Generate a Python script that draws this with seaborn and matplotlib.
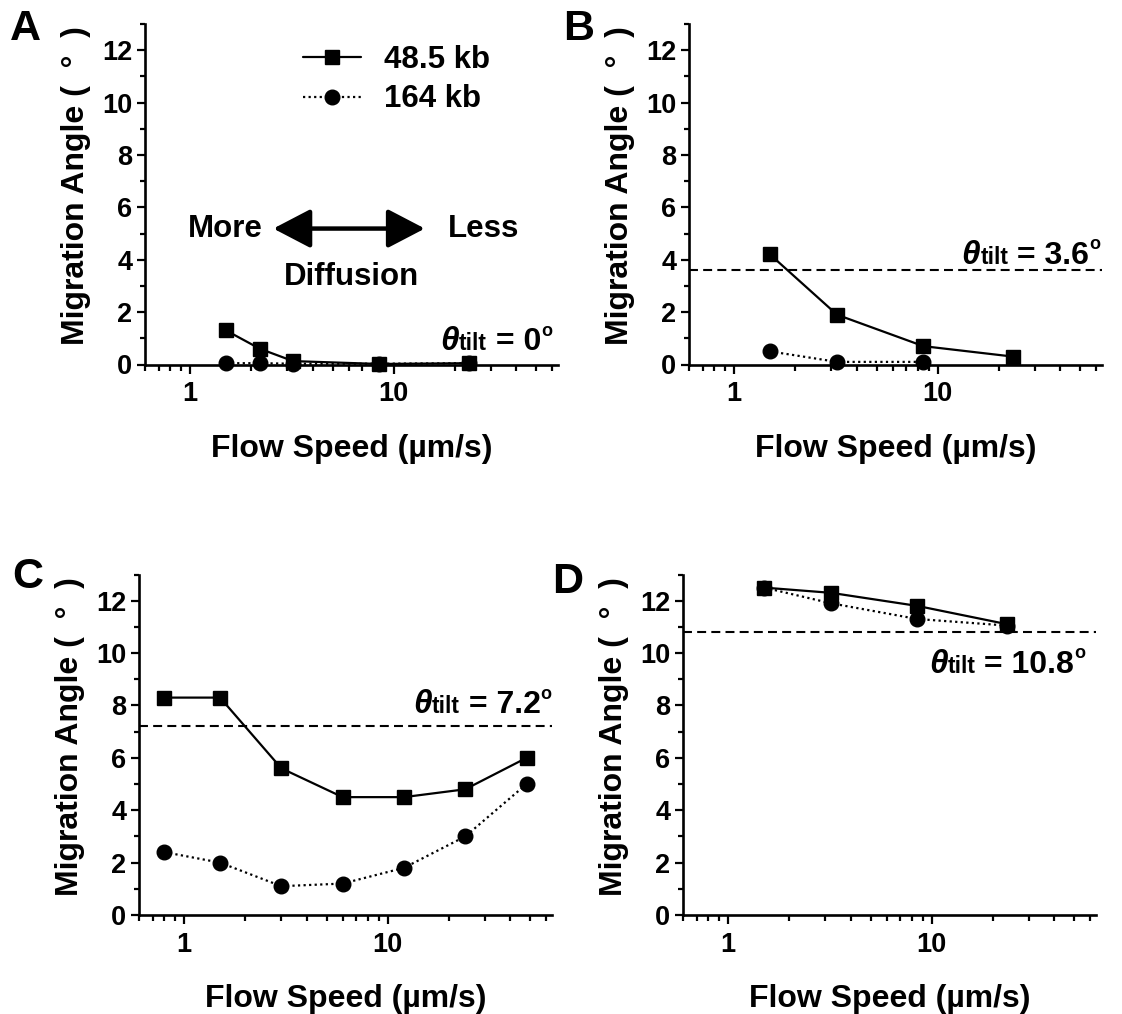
import matplotlib
matplotlib.use("Agg")
import matplotlib.pyplot as plt
import matplotlib.transforms as mtransforms
from matplotlib.ticker import MultipleLocator, FixedLocator, FuncFormatter, NullFormatter, LogLocator
import numpy as np
import pandas as pd
import seaborn as sns

# ---------------- data ----------------
series_names = ["48.5 kb", "164 kb"]

speed_A_485 = [1.5, 2.2, 3.2, 8.5, 23.5]
angle_A_485 = [1.3, 0.6, 0.13, 0.02, 0.05]
speed_A_164 = [1.5, 2.2, 3.2, 8.5, 23.5]
angle_A_164 = [0.05, 0.05, 0.03, 0.03, 0.05]

speed_B_485 = [1.5, 3.2, 8.5, 23.5]
angle_B_485 = [4.2, 1.9, 0.7, 0.3]
speed_B_164 = [1.5, 3.2, 8.5]
angle_B_164 = [0.5, 0.1, 0.1]

speed_C_485 = [0.8, 1.5, 3.0, 6.0, 12, 24, 48]
angle_C_485 = [8.3, 8.3, 5.6, 4.5, 4.5, 4.8, 6.0]
speed_C_164 = [0.8, 1.5, 3.0, 6.0, 12, 24, 48]
angle_C_164 = [2.4, 2.0, 1.1, 1.2, 1.8, 3.0, 5.0]

speed_D_485 = [1.5, 3.2, 8.5, 23.5]
angle_D_485 = [12.5, 12.3, 11.8, 11.1]
speed_D_164 = [1.5, 3.2, 8.5, 23.5]
angle_D_164 = [12.5, 11.9, 11.3, 11.05]

tilt_angles = [0, 3.6, 7.2, 10.8]
panel_letters = ["A", "B", "C", "D"]
x_tick_values = [1, 10]
y_tick_values = [0, 2, 4, 6, 8, 10, 12]

# ---------------- style ----------------
sns.set_theme(style="ticks")
plt.rcParams["font.family"] = ["Liberation Sans", "DejaVu Sans"]
plt.rcParams["font.weight"] = "bold"
plt.rcParams["axes.labelweight"] = "bold"
plt.rcParams["axes.edgecolor"] = "black"
plt.rcParams["xtick.color"] = "black"
plt.rcParams["ytick.color"] = "black"
plt.rcParams["text.color"] = "black"
plt.rcParams["axes.labelcolor"] = "black"

W, H = 1122, 1014
fig = plt.figure(figsize=(W / 100, H / 100), dpi=100)

def px_axes(left, right, top, bottom):
    return fig.add_axes([left / W, 1 - bottom / H, (right - left) / W, (bottom - top) / H])

axA = px_axes(145, 558, 24, 364.5)
axB = px_axes(689, 1102, 24, 364.5)
axC = px_axes(139, 552, 574.5, 915)
axD = px_axes(683, 1096, 574.5, 915)
axes = [axA, axB, axC, axD]

panel_data = [
    (speed_A_485, angle_A_485, speed_A_164, angle_A_164),
    (speed_B_485, angle_B_485, speed_B_164, angle_B_164),
    (speed_C_485, angle_C_485, speed_C_164, angle_C_164),
    (speed_D_485, angle_D_485, speed_D_164, angle_D_164),
]

for ax, (s1, a1, s2, a2) in zip(axes, panel_data):
    ax.set_xscale("log")
    df = pd.DataFrame({
        "speed": list(s1) + list(s2),
        "angle": list(a1) + list(a2),
        "dna": [series_names[0]] * len(s1) + [series_names[1]] * len(s2),
    })
    sns.lineplot(data=df, x="speed", y="angle", style="dna", style_order=series_names,
                 markers={series_names[0]: "s", series_names[1]: "o"},
                 dashes={series_names[0]: "", series_names[1]: (1, 1.5)},
                 color="black", linewidth=1.6, markersize=10.5,
                 markeredgecolor="black", markeredgewidth=1,
                 estimator=None, sort=False, legend=False, ax=ax, clip_on=False)
    ax.set_xlim(0.6, 64)
    ax.set_ylim(0, 13)
    ax.xaxis.set_major_locator(FixedLocator(x_tick_values))
    ax.xaxis.set_major_formatter(FuncFormatter(lambda v, p: f"{v:g}"))
    ax.xaxis.set_minor_locator(LogLocator(base=10, subs=np.arange(2, 10)))
    ax.xaxis.set_minor_formatter(NullFormatter())
    ax.yaxis.set_major_locator(FixedLocator(y_tick_values))
    ax.yaxis.set_minor_locator(MultipleLocator(1))
    for sp in ["top", "right"]:
        ax.spines[sp].set_visible(False)
    for sp in ["left", "bottom"]:
        ax.spines[sp].set_linewidth(1.9)
    ax.tick_params(axis="x", which="major", length=6.5, width=1.6, pad=5.5, labelsize=19.5)
    ax.tick_params(axis="x", which="minor", length=4.3, width=1.6)
    ax.tick_params(axis="y", which="major", length=6, width=1.6, pad=3, labelsize=19.5)
    ax.tick_params(axis="y", which="minor", length=3.8, width=1.6)
    for lab in ax.get_xticklabels() + ax.get_yticklabels():
        lab.set_fontweight("bold")
    ax.set_xlabel("Flow Speed (\u00b5m/s)", fontsize=23, fontweight="bold", labelpad=19)
    ax.set_ylabel("Migration Angle (  \u00b0  )", fontsize=23, fontweight="bold", labelpad=8)
    ax.yaxis.label.set_y(0.525)

# legend in panel A
handles = axA.lines[:2]
axA.legend(handles, series_names, loc="upper left", bbox_to_anchor=(0.383, 0.938),
           frameon=False, borderpad=0, borderaxespad=0, handlelength=1.85,
           handletextpad=0.75, labelspacing=0.3,
           prop={"family": "Liberation Sans", "weight": "bold", "size": 22.5})

# tilt dashed lines (not in A)
for ax, t in zip(axes[1:], tilt_angles[1:]):
    ax.axhline(t, color="black", linewidth=1.5, linestyle=(0, (4.3, 2.5)))

# tilt labels
renderer = fig.canvas.get_renderer()
def tilt_label(ax, x, y, value):
    pieces = [("\u03b8", dict(fontsize=24, style="italic"), 0),
              ("tilt", dict(fontsize=16.5), 0),
              (f" = {value:g}", dict(fontsize=23), 0),
              ("o", dict(fontsize=13), 10.5)]
    dx = 0.0
    for txt, kw, rise in pieces:
        tr = mtransforms.offset_copy(ax.transData, fig=fig, x=dx, y=rise, units="points")
        t = ax.text(x, y, txt, transform=tr, ha="left", va="baseline",
                    fontweight="bold", clip_on=False, **kw)
        bb = t.get_window_extent(renderer=renderer)
        dx += bb.width * 72 / fig.dpi

tilt_pos = [(16.9, 0.55), (13.1, 3.85), (13.3, 7.7), (9.67, 9.24)]
for ax, t, (x, y) in zip(axes, tilt_angles, tilt_pos):
    tilt_label(ax, x, y, t)

# diffusion annotation in A
axA.annotate("", xy=(14.2, 5.19), xytext=(2.56, 5.19),
             arrowprops=dict(arrowstyle="<|-|>,head_length=1.15,head_width=0.6",
                             mutation_scale=20, lw=3.2, color="black",
                             shrinkA=0, shrinkB=0))
axA.text(2.26, 4.87, "More", ha="right", va="baseline", fontsize=22.5, fontweight="bold")
axA.text(18.5, 4.87, "Less", ha="left", va="baseline", fontsize=22.5, fontweight="bold")
axA.text(6.21, 3.03, "Diffusion", ha="center", va="baseline", fontsize=22.5, fontweight="bold")

# panel letters
letter_pos = [(10, 9), (563, 9), (12, 557), (552, 562)]
for L, (lx, ly) in zip(panel_letters, letter_pos):
    fig.text(lx / W, 1 - ly / H, L, ha="left", va="top", fontsize=31, fontweight="bold")

fig.savefig("out.png", dpi=100)
